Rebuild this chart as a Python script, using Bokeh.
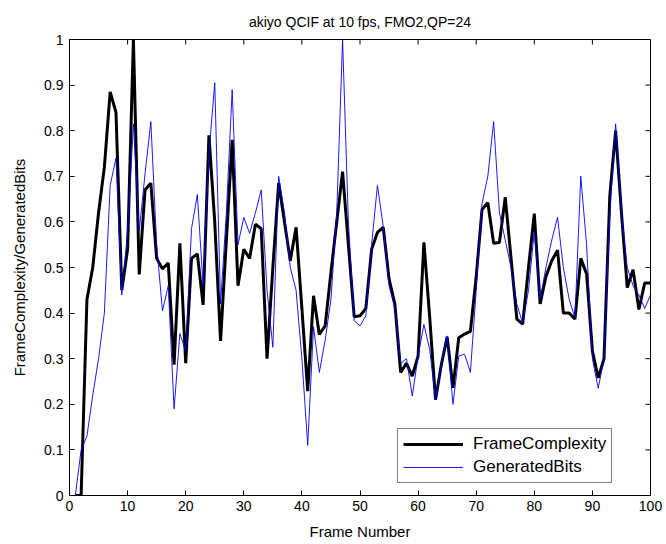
from bokeh.plotting import figure
from bokeh.models import (Range1d, FixedTicker, LinearAxis, Legend, LegendItem,
                          CustomJSTickFormatter)
from bokeh.embed import file_html
from bokeh.resources import INLINE

frames = list(range(1, 101))
frame_complexity = [
    0.0, 0.0, 0.43, 0.50, 0.62, 0.72, 0.885, 0.84, 0.45, 0.54,
    1.0, 0.485, 0.67, 0.685, 0.52, 0.497, 0.51, 0.287, 0.553, 0.29,
    0.52, 0.53, 0.418, 0.79, 0.60, 0.339, 0.56, 0.78, 0.46, 0.54,
    0.52, 0.595, 0.585, 0.30, 0.50, 0.685, 0.60, 0.515, 0.588, 0.41,
    0.229, 0.438, 0.353, 0.372, 0.49, 0.60, 0.71, 0.55, 0.392, 0.394,
    0.41, 0.54, 0.577, 0.588, 0.475, 0.42, 0.27, 0.29, 0.262, 0.306,
    0.555, 0.39, 0.21, 0.287, 0.348, 0.236, 0.346, 0.354, 0.36, 0.48,
    0.627, 0.642, 0.553, 0.555, 0.654, 0.52, 0.387, 0.376, 0.50, 0.618,
    0.42, 0.48, 0.515, 0.538, 0.40, 0.40, 0.387, 0.52, 0.486, 0.317,
    0.258, 0.30, 0.658, 0.80, 0.62, 0.456, 0.495, 0.408, 0.466, 0.466,
]
generated_bits = [
    0.0, 0.10, 0.13, 0.22, 0.30, 0.40, 0.68, 0.74, 0.44, 0.58,
    0.815, 0.58, 0.705, 0.82, 0.55, 0.405, 0.46, 0.19, 0.355, 0.317,
    0.585, 0.66, 0.46, 0.75, 0.905, 0.42, 0.62, 0.89, 0.55, 0.61,
    0.575, 0.62, 0.67, 0.45, 0.325, 0.70, 0.62, 0.50, 0.45, 0.30,
    0.11, 0.37, 0.27, 0.34, 0.43, 0.62, 1.0, 0.60, 0.383, 0.372,
    0.394, 0.55, 0.68, 0.59, 0.46, 0.41, 0.29, 0.30, 0.218, 0.306,
    0.375, 0.32, 0.21, 0.29, 0.35, 0.20, 0.306, 0.31, 0.27, 0.45,
    0.64, 0.70, 0.82, 0.62, 0.56, 0.50, 0.42, 0.377, 0.45, 0.58,
    0.43, 0.50, 0.56, 0.61, 0.50, 0.43, 0.39, 0.70, 0.55, 0.30,
    0.235, 0.30, 0.62, 0.815, 0.62, 0.50, 0.46, 0.44, 0.41, 0.44,
]
x_ticks = [0, 10, 20, 30, 40, 50, 60, 70, 80, 90, 100]
y_ticks = [0, 0.1, 0.2, 0.3, 0.4, 0.5, 0.6, 0.7, 0.8, 0.9, 1.0]

title = "akiyo QCIF at 10 fps, FMO2,QP=24"
x_label = "Frame Number"
y_label = "FrameComplexity/GeneratedBits"

FONT = "Liberation Sans"
X0, X1, Y0, Y1 = 0, 100, 0, 1
FRAME_W, FRAME_H = 581, 456   # pixels of the plot frame
TICK_PX = 5

p = figure(width=666, height=544, output_backend="svg", toolbar_location=None,
           x_range=Range1d(X0, X1), y_range=Range1d(Y0, Y1),
           x_axis_type=None, y_axis_type=None,
           min_border_left=69, min_border_right=16, min_border_top=39,
           min_border_bottom=49)
p.background_fill_color = "white"
p.border_fill_color = "white"
p.outline_line_color = "black"
p.outline_line_width = 1
p.xgrid.visible = False
p.ygrid.visible = False

p.title.text = title
p.title.align = "center"
p.title.text_font = FONT
p.title.text_font_size = "14px"
p.title.text_font_style = "normal"
p.title.text_color = "black"
p.title.standoff = 20

fmt = CustomJSTickFormatter(code="return String(Math.round(tick*10)/10);")

def style_axis(ax):
    ax.axis_line_color = "black"
    ax.major_tick_line_color = "black"
    ax.major_tick_in = TICK_PX
    ax.major_tick_out = 0
    ax.minor_tick_line_color = None
    ax.major_label_text_font = FONT
    ax.major_label_text_font_size = "14px"
    ax.major_label_text_color = "black"
    ax.axis_label_text_font = FONT
    ax.axis_label_text_font_size = "15px"
    ax.axis_label_text_font_style = "normal"
    ax.axis_label_text_color = "black"

xb = LinearAxis(ticker=FixedTicker(ticks=x_ticks), axis_label=x_label)
style_axis(xb)
xb.major_label_standoff = 5
xb.axis_label_standoff = 9
p.add_layout(xb, "below")

yl = LinearAxis(ticker=FixedTicker(ticks=y_ticks), axis_label=y_label, formatter=fmt)
style_axis(yl)
yl.major_label_standoff = 6
yl.axis_label_standoff = 13
p.add_layout(yl, "left")

# mirrored inward tick marks on top and right edges (MATLAB box style)
dy = TICK_PX * (Y1 - Y0) / FRAME_H
dx = TICK_PX * (X1 - X0) / FRAME_W
p.segment(x0=x_ticks, y0=[Y1] * len(x_ticks), x1=x_ticks, y1=[Y1 - dy] * len(x_ticks),
          line_color="black", line_width=1)
p.segment(x0=[X1] * len(y_ticks), y0=y_ticks, x1=[X1 - dx] * len(y_ticks), y1=y_ticks,
          line_color="black", line_width=1)

r1 = p.line(frames, frame_complexity, line_color="black", line_width=3)
r2 = p.line(frames, generated_bits, line_color="#0000ff", line_width=0.9)

legend = Legend(items=[LegendItem(label="FrameComplexity", renderers=[r1]),
                       LegendItem(label="GeneratedBits", renderers=[r2])],
                location=(328, 12))
legend.border_line_color = "black"
legend.border_line_width = 1
legend.background_fill_color = "white"
legend.background_fill_alpha = 1
legend.label_text_font = FONT
legend.label_text_font_size = "17px"
legend.label_text_color = "black"
legend.padding = 5
legend.spacing = 3
legend.margin = 0
legend.glyph_width = 60
legend.glyph_height = 20
legend.label_height = 20
legend.label_standoff = 10
p.add_layout(legend)

open("out.html", "w").write(file_html(p, INLINE))
